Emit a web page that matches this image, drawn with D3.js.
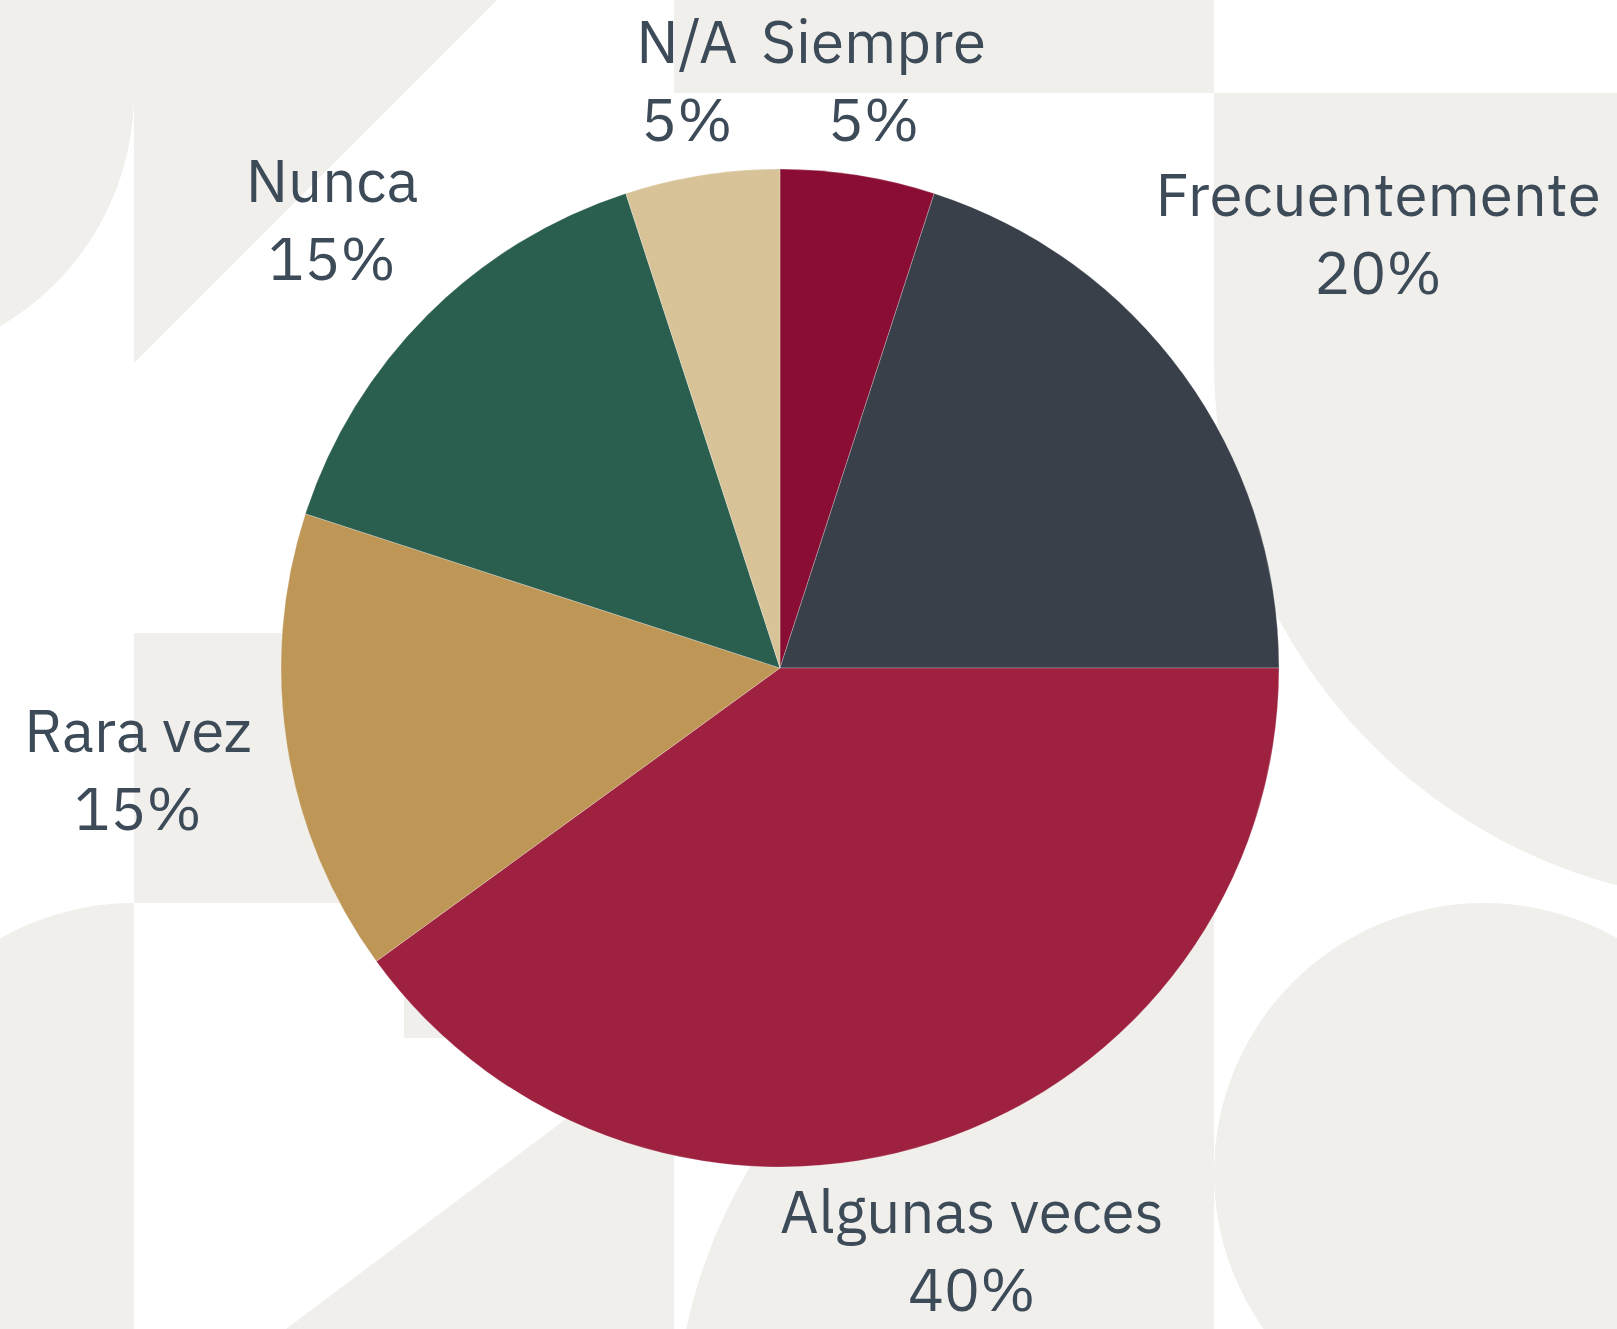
<!DOCTYPE html>
<html>
<head>
<meta charset="utf-8">
<script src="https://cdn.jsdelivr.net/npm/d3@7"></script>
<style>
  html, body { margin: 0; padding: 0; background: #fff; }
  svg { display: block; }
  .lbl { font-family: "IBM Plex Sans", Roboto, "Noto Sans", sans-serif; fill: #3d4a58; }
</style>
</head>
<body>
<div id="chart"></div>
<script>
// data, clockwise from 12 o'clock
var categories = ["Siempre", "Frecuentemente", "Algunas veces", "Rara vez", "Nunca", "N/A"];
var values = [5, 20, 40, 15, 15, 5];
var colors = ["#8a0d33", "#39404a", "#9e2140", "#be9656", "#2a5e4f", "#d7c397"];

var width = 1617, height = 1329;
var cx = 780, cy = 668, radius = 499;
var fontSize = 60, capH = fontSize * 0.711, lineGap = 78, labelGap = 31;

var svg = d3.select("#chart").append("svg")
  .attr("width", width)
  .attr("height", height);

// background tiles (grid of 270px cells)
var s = 270, gx = function(c) { return 134 + c * s; }, gy = function(r) { return 93 + r * s; };
var bg = svg.append("g").attr("fill", "#f0efeb");
var tiles = [
  // top-left rounded block
  "M" + gx(-1) + "," + gy(-1) + "H" + gx(0) + "V" + gy(0) +
    "A" + s + " " + s + " 0 0 1 " + gx(-1) + "," + gy(1) + "Z",
  // top-left triangle
  "M" + gx(0) + "," + gy(-1) + "H" + gx(2) + "L" + gx(0) + "," + gy(1) + "Z",
  // top strip
  "M" + gx(2) + "," + gy(-1) + "H" + gx(4) + "V" + gy(0) + "H" + gx(2) + "Z",
  // right big rounded block
  "M" + gx(4) + "," + gy(0) + "H" + (width + 10) + "V" + gy(3) + "H" + gx(6) +
    "A" + (2 * s) + " " + (2 * s) + " 0 0 1 " + gx(4) + "," + gy(1) + "Z",
  // left middle blocks
  "M" + gx(0) + "," + gy(2) + "H" + gx(2) + "V" + (gy(3) + s / 2) + "H" + gx(1) + "V" + gy(3) + "H" + gx(0) + "Z",
  // bottom-left rounded block
  "M" + gx(0) + "," + gy(3) + "A" + s + " " + s + " 0 0 0 " + gx(-1) + "," + gy(4) +
    "V" + gy(5) + "H" + gx(0) + "Z",
  // bottom triangle
  "M" + gx(0) + "," + gy(5) + "L" + gx(2) + "," + (gy(3) + s / 2) + "V" + gy(5) + "Z",
  // bottom quarter disc
  "M" + gx(4) + "," + gy(5) + "H" + gx(2) +
    "A" + (2 * s) + " " + (2 * s) + " 0 0 1 " + gx(4) + "," + gy(3) + "Z"
];
bg.selectAll("path").data(tiles).enter().append("path").attr("d", function(d) { return d; });
bg.append("circle").attr("cx", gx(5)).attr("cy", gy(4)).attr("r", s);

// pie
var color = d3.scaleOrdinal().domain(categories).range(colors);
var total = d3.sum(values);
var data = categories.map(function(c, i) { return {name: c, value: values[i]}; });
var pie = d3.pie().sort(null).value(function(d) { return d.value; });
var arc = d3.arc().innerRadius(0).outerRadius(radius);
var arcs = pie(data);

var chart_area = svg.append("g")
  .attr("transform", "translate(" + cx + "," + cy + ")");

chart_area.selectAll("path.slice")
  .data(arcs)
  .enter().append("path")
    .attr("class", "slice")
    .attr("d", arc)
    .attr("fill", function(d) { return color(d.data.name); })
    .attr("stroke", "#ffffff")
    .attr("stroke-opacity", 0.35)
    .attr("stroke-width", 0.7);

// labels, pushed out along the mid angle until the box clears the pie
function boxDist(x, y, w, h) {
  var dx = Math.max(Math.abs(x) - w / 2, 0);
  var dy = Math.max(Math.abs(y) - h / 2, 0);
  return Math.sqrt(dx * dx + dy * dy);
}

var labels = chart_area.selectAll("text.lbl")
  .data(arcs)
  .enter().append("text")
    .attr("class", "lbl")
    .attr("text-anchor", "middle")
    .attr("font-size", fontSize);

labels.each(function(d) {
  var t = d3.select(this);
  var s1 = t.append("tspan").text(d.data.name);
  var s2 = t.append("tspan").text(Math.round(d.value / total * 100) + "%");
  var w = Math.max(s1.node().getComputedTextLength(), s2.node().getComputedTextLength());
  var h = capH + lineGap;
  var a = (d.startAngle + d.endAngle) / 2;
  var ux = Math.sin(a), uy = -Math.cos(a);
  var lo = 0, hi = 1500;
  for (var k = 0; k < 60; k++) {
    var mid = (lo + hi) / 2;
    if (boxDist(ux * mid, uy * mid, w, h) < radius + labelGap) lo = mid; else hi = mid;
  }
  var x = ux * lo, y = uy * lo;
  x = Math.min(Math.max(x, 14 + w / 2 - cx), width - 14 - w / 2 - cx);
  var base1 = y - h / 2 + capH;
  s1.attr("x", x).attr("y", base1);
  s2.attr("x", x).attr("y", base1 + lineGap);

  // keep the whole text box inside the canvas
  var bb = this.getBBox();
  var shift = 0;
  if (bb.y + cy < 1) shift = 1 - (bb.y + cy);
  if (bb.y + bb.height + cy > height - 1) shift = (height - 1) - (bb.y + bb.height + cy);
  if (shift) {
    s1.attr("y", base1 + shift);
    s2.attr("y", base1 + lineGap + shift);
  }
});
</script>
</body>
</html>
